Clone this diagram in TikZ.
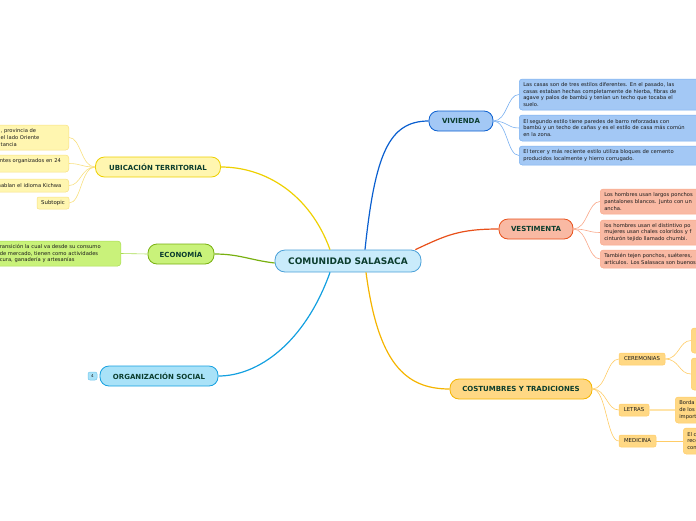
\documentclass[tikz,border=0pt]{standalone}
\usepackage{fontspec}
\setmainfont{DejaVu Sans}
\usetikzlibrary{positioning}

\definecolor{ink}{HTML}{0B3D2E}
\definecolor{leafink}{HTML}{1A1A1A}
\definecolor{hubfill}{HTML}{C9EBFB}
\definecolor{hubline}{HTML}{4AA0D8}
\definecolor{vivfill}{HTML}{A3C8F5}
\definecolor{vivline}{HTML}{0A5FD0}
\definecolor{vivleaf}{HTML}{7AB0F0}
\definecolor{vesfill}{HTML}{F9B9A3}
\definecolor{vesline}{HTML}{E8501A}
\definecolor{vesleaf}{HTML}{F9A88A}
\definecolor{cosfill}{HTML}{FFD884}
\definecolor{cosline}{HTML}{F5B400}
\definecolor{cosleaf}{HTML}{FFCC66}
\definecolor{orgfill}{HTML}{A9E2F8}
\definecolor{orgline}{HTML}{14A0E0}
\definecolor{ecofill}{HTML}{C9F27A}
\definecolor{ecoline}{HTML}{78B010}
\definecolor{ecoleaf}{HTML}{A8DC50}
\definecolor{ubifill}{HTML}{FFF6B0}
\definecolor{ubiline}{HTML}{EED000}
\definecolor{ubileaf}{HTML}{F8E080}

\begin{document}
\begin{tikzpicture}[x=1pt, y=-1pt,
                hub/.style = {
                    rectangle, rounded corners=10pt,
                    draw=hubline, fill=hubfill,
                    line width=.8pt, inner sep=0pt,
                    minimum width=146pt, minimum height=22pt,
                    font=\fontsize{9}{10}\selectfont\bfseries, text=ink
                },
                topic/.style = {
                    rectangle, rounded corners=9pt,
                    line width=.8pt, inner sep=0pt,
                    minimum height=20pt,
                    font=\fontsize{7}{8}\selectfont\bfseries, text=ink
                },
                leaf/.style = {
                    rectangle, rounded corners=3pt,
                    line width=.5pt, inner xsep=4pt, inner ysep=0pt,
                    align=left, text=leafink,
                    font=\fontsize{5.2}{6.6}\selectfont
                },
                tag/.style = {
                    rectangle, rounded corners=2pt,
                    line width=.5pt, inner sep=0pt,
                    minimum height=12pt, text=leafink,
                    font=\fontsize{5.4}{6}\selectfont
                },
                branch/.style = {line width=1.2pt},
                twig/.style = {line width=.6pt}
                ]

                \useasboundingbox (0,0) rectangle (696,520);
                \clip (0,0) rectangle (696,520);

                % centre
                \node[hub] (hub) at (348,261) {COMUNIDAD SALASACA};

                % main topics
                \node[topic, draw=vivline, fill=vivfill, minimum width=64pt] (viv) at (461,121) {VIVIENDA};
                \node[topic, draw=vesline, fill=vesfill, minimum width=74pt] (ves) at (536,229) {VESTIMENTA};
                \node[topic, draw=cosline, fill=cosfill, minimum width=142pt] (cos) at (521,389) {COSTUMBRES Y TRADICIONES};
                \node[topic, draw=orgline, fill=orgfill, minimum width=118pt] (org) at (159,376) {ORGANIZACIÓN SOCIAL};
                \node[topic, draw=ecoline, fill=ecofill, minimum width=66pt] (eco) at (181,254) {ECONOMÍA};
                \node[topic, draw=ubiline, fill=ubifill, minimum width=125pt] (ubi) at (158,167) {UBICACIÓN TERRITORIAL};

                \node[tag, draw=orgline!60, fill=orgfill, minimum width=9pt, minimum height=8pt,
                      font=\fontsize{4}{4}\selectfont] (orgcount) at (92.5,376) {4};

                % vivienda
                \node[leaf, draw=vivleaf, fill=vivfill, anchor=west, text width=200pt, minimum height=31pt] (viv1) at (519,94.5)
                    {Las casas son de tres estilos diferentes. En el pasado, las\\casas estaban hechas completamente de hierba, fibras de\\agave y palos de bambú y tenían un techo que tocaba el\\suelo.};
                \node[leaf, draw=vivleaf, fill=vivfill, anchor=west, text width=200pt, minimum height=26pt] (viv2) at (519,128)
                    {El segundo estilo tiene paredes de barro reforzadas con\\bambú y un techo de cañas y es el estilo de casa más común\\en la zona.};
                \node[leaf, draw=vivleaf, fill=vivfill, anchor=west, text width=200pt, minimum height=19pt] (viv3) at (519,155.5)
                    {El tercer y más reciente estilo utiliza bloques de cemento\\producidos localmente y hierro corrugado.};

                % vestimenta
                \node[leaf, draw=vesleaf, fill=vesfill, anchor=west, text width=140pt, minimum height=25pt] (ves1) at (600,201.5)
                    {Los hombres usan largos ponchos\\pantalones blancos. Junto con un\\ancha.};
                \node[leaf, draw=vesleaf, fill=vesfill, anchor=west, text width=140pt, minimum height=25pt] (ves2) at (600,232.5)
                    {los hombres usan el distintivo po\\mujeres usan chales coloridos y f\\cinturón tejido llamado chumbi.};
                \node[leaf, draw=vesleaf, fill=vesfill, anchor=west, text width=140pt, minimum height=18pt] (ves3) at (600,259)
                    {También tejen ponchos, suéteres,\\artículos. Los Salasaca son buenos};

                % costumbres
                \node[tag, draw=cosleaf, fill=cosfill, minimum width=46pt] (cer) at (642,359) {CEREMONIAS};
                \node[tag, draw=cosleaf, fill=cosfill, minimum width=30pt] (let) at (634,410) {LETRAS};
                \node[tag, draw=cosleaf, fill=cosfill, minimum width=37pt] (med) at (637.5,441) {MEDICINA};
                \node[leaf, draw=cosleaf, fill=cosfill, anchor=west, minimum width=30pt, minimum height=25pt] (cer1) at (691,340.5) {};
                \node[leaf, draw=cosleaf, fill=cosfill, anchor=west, minimum width=30pt, minimum height=32pt] (cer2) at (691,374) {};
                \node[leaf, draw=cosleaf, fill=cosfill, anchor=west, text width=40pt, minimum height=26pt] (let1) at (675,410)
                    {Borda\\de los\\import};
                \node[leaf, draw=cosleaf, fill=cosfill, anchor=west, text width=40pt, minimum height=26pt] (med1) at (683,441)
                    {El c\\reco\\con};

                % economia
                \node[leaf, draw=ecoleaf, fill=ecofill, anchor=east, text width=117pt, minimum height=25pt] (eco1) at (121,253.5)
                    {ransición la cual va desde su consumo\\de mercado, tienen como actividades\\cura, ganadería y artesanías};

                % ubicacion
                \node[leaf, draw=ubileaf, fill=ubifill, anchor=east, text width=64pt, minimum height=25pt] (ubi1) at (69,137.5)
                    {, provincia de\\el lado Oriente\\tancia};
                \node[leaf, draw=ubileaf, fill=ubifill, anchor=east, text width=65pt, minimum height=17pt] (ubi2) at (69,163.5)
                    {ntes organizados en 24\\\mbox{}};
                \node[leaf, draw=ubileaf, fill=ubifill, anchor=east, text width=67pt, minimum height=13pt] (ubi3) at (69,185.5)
                    {hablan el idioma Kichwa};
                \node[tag, draw=ubileaf, fill=ubifill, minimum width=32pt] (ubi4) at (53,203) {Subtopic};

                % branches from the centre
                \draw[branch, vivline] ([xshift=17pt]hub.north) .. controls +(10,-95) and +(-40,0) .. (viv.west);
                \draw[branch, vesline] ([xshift=-6pt]hub.north east) .. controls +(30,-14) and +(-40,0) .. (ves.west);
                \draw[branch, cosline] ([xshift=18pt]hub.south) .. controls +(12,90) and +(-45,0) .. (cos.west);
                \draw[branch, orgline] ([xshift=-18pt]hub.south) .. controls +(-25,70) and +(40,0) .. (org.east);
                \draw[branch, ecoline] ([yshift=-2pt]hub.west) .. controls +(-25,-3) and +(25,0) .. (eco.east);
                \draw[branch, ubiline] ([xshift=-18pt]hub.north) .. controls +(-20,-55) and +(45,0) .. (ubi.east);

                % twigs
                \foreach \leafname in {viv1, viv2, viv3}
                    \draw[twig, vivleaf] (viv.east) .. controls +(14,0) and +(-12,0) .. (\leafname.west);
                \foreach \leafname in {ves1, ves2, ves3}
                    \draw[twig, vesleaf] (ves.east) .. controls +(14,0) and +(-12,0) .. (\leafname.west);
                \foreach \leafname in {cer, let, med}
                    \draw[twig, cosleaf] (cos.east) .. controls +(14,0) and +(-12,0) .. (\leafname.west);
                \foreach \leafname in {cer1, cer2}
                    \draw[twig, cosleaf] (cer.east) .. controls +(14,0) and +(-12,0) .. (\leafname.west);
                \draw[line width=1.4pt, cosfill!70] (let.east) -- (let1.west);
                \draw[twig, cosleaf] (med.east) -- (med1.west);
                \draw[twig, ecoleaf] (eco.west) -- (eco1.east);
                \foreach \leafname in {ubi1, ubi2, ubi3, ubi4}
                    \draw[twig, ubileaf] (ubi.west) .. controls +(-14,0) and +(12,0) .. (\leafname.east);
            \end{tikzpicture}
\end{document}
